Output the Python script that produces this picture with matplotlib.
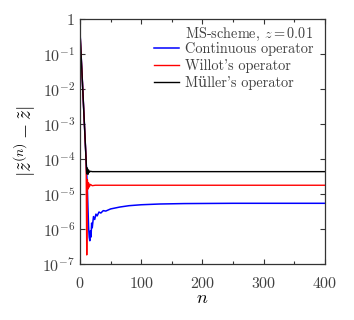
import matplotlib
matplotlib.use('Agg')
import matplotlib.pyplot as plt
from matplotlib.ticker import MultipleLocator

plt.rcParams['font.family'] = ['cmr10', 'DejaVu Serif']
plt.rcParams['mathtext.fontset'] = 'cm'
plt.rcParams['axes.formatter.use_mathtext'] = True

# continuous operator
n_cont = [0, 2, 4, 6, 8, 10, 12, 13, 14, 15, 16, 17, 18, 19, 20, 22, 24, 26, 28,
          31, 34, 38, 42, 50, 65, 80, 100, 130, 170, 250, 400]
e_cont = [0.43, 0.08, 0.015, 2.7e-3, 5e-4, 9e-5, 1.5e-5, 4e-6, 1.2e-6, 6e-7, 4.7e-7,
          9e-7, 6e-7, 1.5e-6, 1.1e-6, 2.3e-6, 1.9e-6, 2.7e-6, 2.4e-6,
          3.1e-6, 2.9e-6, 3.4e-6, 3.3e-6, 3.8e-6, 4.3e-6, 4.7e-6, 5.0e-6, 5.25e-6,
          5.4e-6, 5.5e-6, 5.5e-6]

# Willot's operator
n_willot = [0, 2, 4, 6, 8, 10, 11, 12, 13, 14, 15, 17, 20, 25, 400]
e_willot = [0.43, 0.08, 0.015, 2.7e-3, 5e-4, 9e-5, 1.85e-7, 2.6e-5, 1.4e-5, 2.1e-5,
            1.6e-5, 1.9e-5, 1.75e-5, 1.8e-5, 1.8e-5]

# Muller's operator
n_muller = [0, 2, 4, 6, 8, 10, 11, 12, 13, 14, 15, 17, 20, 400]
e_muller = [0.43, 0.08, 0.015, 2.7e-3, 5e-4, 9e-5, 3.8e-5, 5.6e-5, 3.7e-5, 4.9e-5,
            4.2e-5, 4.5e-5, 4.4e-5, 4.4e-5]

yticks = [1e-7, 1e-6, 1e-5, 1e-4, 1e-3, 1e-2, 1e-1, 1]
ylabels = ['$10^{-7}$', '$10^{-6}$', '$10^{-5}$', '$10^{-4}$', '$10^{-3}$',
           '$10^{-2}$', '$10^{-1}$', '$1$']
xticks = [0, 100, 200, 300, 400]

fig = plt.figure(figsize=(3.54, 3.2), dpi=100)
ax = fig.add_axes([0.226, 0.174, 0.692, 0.767])

ax.plot(n_cont, e_cont, color='#0000ff', lw=1.1, label='Continuous operator')
ax.plot(n_willot, e_willot, color='#ff0000', lw=1.0, label="Willot's operator")
ax.plot(n_muller, e_muller, color='black', lw=1.0, label="Müller's operator")

ax.set_yscale('log')
ax.set_xlim(0, 400)
ax.set_ylim(1e-7, 1)
ax.set_yticks(yticks, ylabels)
ax.yaxis.set_minor_locator(plt.NullLocator())
ax.set_xticks(xticks)
ax.xaxis.set_minor_locator(MultipleLocator(50))
ax.tick_params(which='both', direction='in', top=True, right=True,
               labelsize=11.5, colors='0.2', labelcolor='0.25')
ax.tick_params(which='major', length=3.5, width=0.8)
ax.tick_params(which='minor', length=2.5, width=0.8)
ax.tick_params(axis='x', pad=8.5)
ax.tick_params(axis='y', pad=3.5)
for s in ax.spines.values():
    s.set_color('0.2')
    s.set_linewidth(0.9)

ax.set_xlabel('$n$', fontsize=13, labelpad=0)
ax.set_ylabel(r'$|\tilde{z}^{(n)} - \tilde{z}|$', fontsize=14, labelpad=3)

ax.text(0.4286, 0.921, 'MS-scheme, $z = 0.01$', transform=ax.transAxes,
        ha='left', va='baseline', fontsize=10.3, color='0.25')
leg = ax.legend(loc='upper left', bbox_to_anchor=(0.302, 0.906), frameon=False,
                fontsize=10.3, handlelength=1.75, handletextpad=0.4,
                labelspacing=0.22, borderpad=0, borderaxespad=0)
for t in leg.get_texts():
    t.set_color('0.25')

fig.savefig('out.png', dpi=100)
